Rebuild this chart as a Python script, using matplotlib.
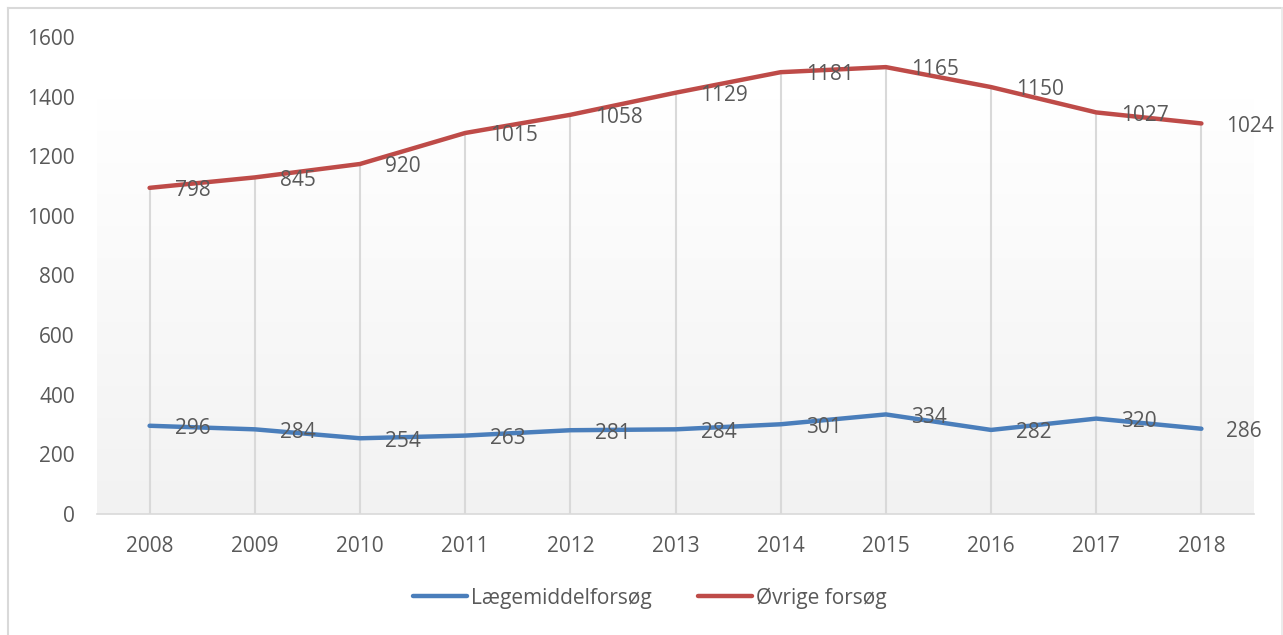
import matplotlib
matplotlib.use("Agg")
import matplotlib.pyplot as plt
import numpy as np
from matplotlib.lines import Line2D
from matplotlib.colors import LinearSegmentedColormap

years = ["2008", "2009", "2010", "2011", "2012", "2013", "2014", "2015", "2016", "2017", "2018"]
laegemiddel = [296, 284, 254, 263, 281, 284, 301, 334, 282, 320, 286]
ovrige = [798, 845, 920, 1015, 1058, 1129, 1181, 1165, 1150, 1027, 1024]
series_names = ["Lægemiddelforsøg", "Øvrige forsøg"]
yticks = [0, 200, 400, 600, 800, 1000, 1200, 1400, 1600]

BLUE = "#4A7EBB"
RED = "#BE4B48"
TXT = "#595959"
FONT = "Open Sans"

plt.rcParams["font.family"] = [FONT, "DejaVu Sans"]

W, H = 1283, 635
fig = plt.figure(figsize=(W / 100, H / 100), dpi=100)
ax = fig.add_axes([97 / W, 1 - 514 / H, (1254 - 97) / W, (514 - 37) / H])

x = np.arange(len(years))
stacked = np.array(laegemiddel) + np.array(ovrige)

ax.set_xlim(-0.5, len(years) - 0.5)
ax.set_ylim(0, 1600)

# gradient plot-area fill
grad = np.linspace(0, 1, 256).reshape(-1, 1)
cmap = LinearSegmentedColormap.from_list("g", ["#F2F2F2", "#FFFFFF"])
ax.imshow(grad, cmap=cmap, aspect="auto", extent=(-0.5, len(years) - 0.5, 0, 1395),
          origin="lower", zorder=0)

# drop lines
ax.vlines(x, 0, stacked, colors="#D9D9D9", linewidth=1.5, zorder=1)

ax.plot(x, laegemiddel, color=BLUE, linewidth=3.2, solid_capstyle="round", zorder=3)
ax.plot(x, stacked, color=RED, linewidth=3.2, solid_capstyle="round", zorder=3)

for xi, v in zip(x, laegemiddel):
    ax.annotate(str(v), (xi, v), xytext=(18, -2), textcoords="offset points",
                ha="left", va="center", fontsize=15, color=TXT, zorder=4)
for xi, s, v in zip(x, stacked, ovrige):
    ax.annotate(str(v), (xi, s), xytext=(18, -2), textcoords="offset points",
                ha="left", va="center", fontsize=15, color=TXT, zorder=4)

ax.set_xticks(x)
ax.set_xticklabels(years)
ax.set_yticks(yticks)
ax.tick_params(axis="both", length=0, labelsize=15, labelcolor=TXT)
ax.tick_params(axis="x", pad=16)
ax.tick_params(axis="y", pad=16)
for s in ["left", "right", "top"]:
    ax.spines[s].set_visible(False)
ax.spines["bottom"].set_color("#D9D9D9")
ax.spines["bottom"].set_linewidth(1.2)
ax.patch.set_alpha(0)

handles = [Line2D([], [], color=BLUE, linewidth=3.2, solid_capstyle="round"),
           Line2D([], [], color=RED, linewidth=3.2, solid_capstyle="round")]
fig.legend(handles, series_names, loc="center", bbox_to_anchor=(650 / W, 1 - 598 / H),
           ncol=2, frameon=False, fontsize=15, labelcolor=TXT, handlelength=2.6,
           handletextpad=0.2, columnspacing=2.2)

# chart border (left, top, right; bottom runs off the image)
fig.add_artist(Line2D([7.5 / W, 7.5 / W], [0, 1 - 7.5 / H], transform=fig.transFigure,
                      color="#D9D9D9", linewidth=1.5))
fig.add_artist(Line2D([7.5 / W, 1281.5 / W], [1 - 7.5 / H, 1 - 7.5 / H], transform=fig.transFigure,
                      color="#D9D9D9", linewidth=1.5))
fig.add_artist(Line2D([1281.5 / W, 1281.5 / W], [0, 1 - 7.5 / H], transform=fig.transFigure,
                      color="#E8E8E8", linewidth=1.2))

fig.savefig("out.png", dpi=100)
